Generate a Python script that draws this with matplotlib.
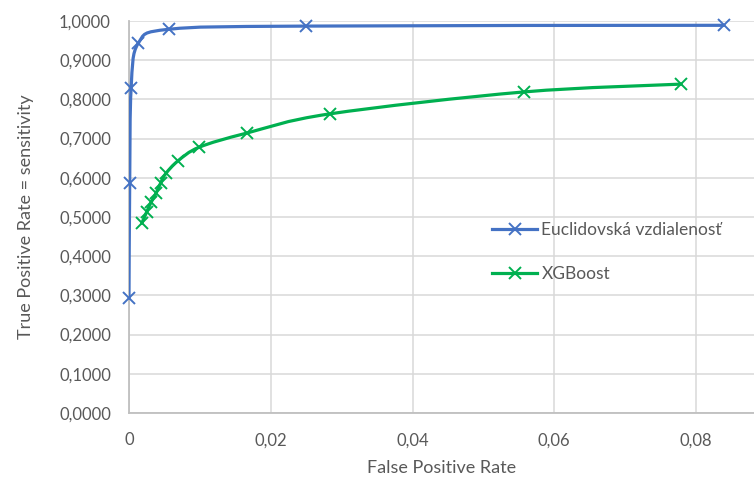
import numpy as np
import matplotlib
matplotlib.use("Agg")
import matplotlib.pyplot as plt
from matplotlib.path import Path
from matplotlib.patches import PathPatch
from matplotlib.lines import Line2D
from matplotlib.ticker import FuncFormatter

plt.rcParams["font.family"] = ["Lato", "DejaVu Sans"]

# ROC points
euclid_fpr = [0.0, 0.0001, 0.0003, 0.0013, 0.0057, 0.025, 0.0839]
euclid_tpr = [0.293, 0.587, 0.828, 0.943, 0.979, 0.987, 0.989]

xgb_fpr = [0.0018, 0.0025, 0.0031, 0.0038, 0.0045, 0.0052, 0.0069,
           0.0099, 0.0166, 0.0283, 0.0557, 0.0779]
xgb_tpr = [0.484, 0.513, 0.537, 0.560, 0.588, 0.611, 0.643,
           0.678, 0.714, 0.763, 0.819, 0.839]

series_labels = ["Euclidovská vzdialenosť", "XGBoost"]
y_ticks = [0.0, 0.1, 0.2, 0.3, 0.4, 0.5, 0.6, 0.7, 0.8, 0.9, 1.0]
x_ticks = [0.0, 0.02, 0.04, 0.06, 0.08]

BLUE = "#4472C4"
GREEN = "#00B050"
TEXT = "#595959"


def smooth_path(xs, ys):
    # Excel-like smoothed line: Catmull-Rom segments as cubic Beziers
    p = np.column_stack([xs, ys]).astype(float)
    n = len(p)
    verts = [p[0]]
    codes = [Path.MOVETO]
    for i in range(n - 1):
        p0 = p[i - 1] if i > 0 else p[i]
        p1 = p[i]
        p2 = p[i + 1]
        p3 = p[i + 2] if i + 2 < n else p[i + 1]
        c1 = p1 + (p2 - p0) / 6.0
        c2 = p2 - (p3 - p1) / 6.0
        verts += [c1, c2, p2]
        codes += [Path.CURVE4] * 3
    return Path(verts, codes)


fig = plt.figure(figsize=(7.54, 4.79), dpi=100)
ax = fig.add_axes([129 / 754, 66 / 479, 625 / 754, 392 / 479])

ax.set_xlim(0, 0.08818)
ax.set_ylim(0, 1.0)

for xs, ys, color in [(euclid_fpr, euclid_tpr, BLUE), (xgb_fpr, xgb_tpr, GREEN)]:
    patch = PathPatch(smooth_path(xs, ys), facecolor="none", edgecolor=color,
                      lw=2.3, capstyle="round", joinstyle="round", zorder=3)
    ax.add_patch(patch)
    ax.plot(xs, ys, linestyle="none", marker="x", color=color,
            markersize=8, markeredgewidth=1.4, zorder=4, clip_on=False)

ax.set_yticks(y_ticks)
ax.set_xticks(x_ticks)
ax.yaxis.set_major_formatter(FuncFormatter(lambda v, _: f"{v:.4f}".replace(".", ",")))
ax.xaxis.set_major_formatter(
    FuncFormatter(lambda v, _: "0" if abs(v) < 1e-12 else f"{v:.2f}".replace(".", ",")))

ax.grid(True, color="#D9D9D9", lw=1.1)
ax.set_axisbelow(True)
for side in ["top", "right"]:
    ax.spines[side].set_visible(False)
for side in ["left", "bottom"]:
    ax.spines[side].set_color("#BFBFBF")
    ax.spines[side].set_linewidth(1.3)

ax.tick_params(axis="both", length=0, labelsize=12, labelcolor=TEXT)
ax.tick_params(axis="y", pad=13)
ax.tick_params(axis="x", pad=14)

ax.set_xlabel("False Positive Rate", fontsize=13, color=TEXT, labelpad=8)
ax.set_ylabel("True Positive Rate = sensitivity", fontsize=13, color=TEXT, labelpad=18)

handles = [Line2D([], [], color=BLUE, lw=2.3, marker="x", markersize=8, markeredgewidth=1.4),
           Line2D([], [], color=GREEN, lw=2.3, marker="x", markersize=8, markeredgewidth=1.4)]
fig.legend(handles, series_labels, loc="upper left",
           bbox_to_anchor=(492 / 754, 1 - 222 / 479), frameon=False,
           fontsize=12.5, labelcolor=TEXT, handlelength=2.6, handletextpad=0.25,
           labelspacing=1.6, borderpad=0, borderaxespad=0)

fig.savefig("out.png", dpi=100)
